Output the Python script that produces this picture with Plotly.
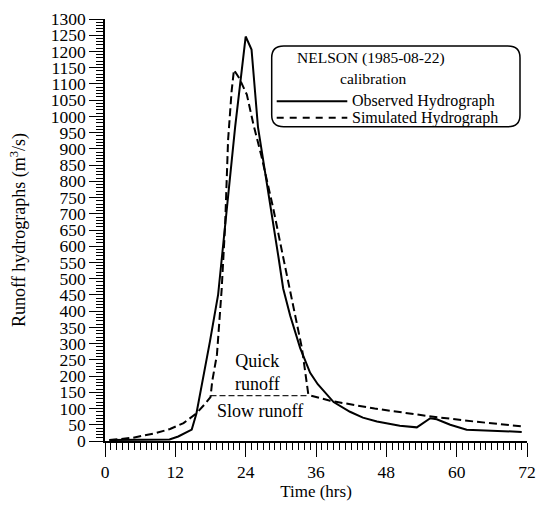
import plotly.graph_objects as go

# ---------------- data ----------------
obs_t = [0.75, 4, 7, 10, 11, 12.5, 14.8, 15.6, 16.8, 17.9, 19.3, 20.5, 22.2, 24.0, 25.0, 26.1,
         27.0, 27.9, 28.7, 29.6, 30.4, 31.6, 33.3, 35.0, 36.3, 37.8, 39.0, 41.8, 44.0, 46.4,
         50.3, 53.2, 54.3, 55.5, 56.6, 58.9, 61.7, 65.1, 68.0, 71.1]
obs_q = [3, 3, 4, 4, 5, 14, 35, 85, 195, 306, 451, 667, 967, 1246, 1206, 967,
         867, 767, 667, 566, 470, 386, 286, 210, 175, 146, 120, 90, 72, 60,
         47, 42, 55, 70, 67, 50, 35, 32, 30, 28]

sim_t = [0.75, 4.8, 8.8, 11.1, 13.4, 15.6, 17.1, 18.0, 18.3, 19.1, 19.9, 20.5, 21.0, 21.6, 22.0,
         22.9, 24.2, 25.3, 26.7, 28.7, 30.4, 32.1, 33.6, 34.7, 38.4, 46.0, 55.0, 63.0, 71.1]
sim_q = [3, 10, 25, 37, 55, 85, 115, 135, 185, 266, 466, 667, 927, 1077, 1143,
         1118, 1067, 977, 877, 717, 566, 416, 286, 142, 124, 100, 77, 60, 45]

sep_t = [18.0, 34.7]
sep_q = [140, 140]

x_ticks = [0, 12, 24, 36, 48, 60, 72]
y_ticks = list(range(0, 1301, 50))

series_names = ["Observed Hydrograph", "Simulated Hydrograph"]
legend_title_lines = ["NELSON (1985-08-22)", "calibration"]
x_title = "Time (hrs)"
y_title = "Runoff hydrographs (m<sup>3</sup>/s)"
quick_text = "Quick<br>runoff"
slow_text = "Slow runoff"

# ---------------- layout helpers ----------------
W, H = 545, 511
ML, MR, MT, MB = 105, 18, 9, 70
PW, PH = W - ML - MR, H - MT - MB
FONT = "Liberation Serif, Times New Roman, serif"


def fx(x):
    return (x - ML) / PW


def fy(y):
    return (H - MB - y) / PH


def rounded_rect(x0, y0, x1, y1, r):
    rx, ry = r / PW, r / PH
    a, b, c, d = fx(x0), fx(x1), fy(y0), fy(y1)  # c top, d bottom
    return (f"M{a+rx},{c} L{b-rx},{c} Q{b},{c} {b},{c-ry} L{b},{d+ry} Q{b},{d} {b-rx},{d} "
            f"L{a+rx},{d} Q{a},{d} {a},{d+ry} L{a},{c-ry} Q{a},{c} {a+rx},{c} Z")


fig = go.Figure()

fig.add_trace(go.Scatter(x=sep_t, y=sep_q, mode="lines",
                         line=dict(color="#222", width=1.2, dash="6px,3px"),
                         showlegend=False, hoverinfo="skip"))
fig.add_trace(go.Scatter(x=sim_t, y=sim_q, mode="lines", name=series_names[1],
                         line=dict(color="black", width=2, dash="8px,4px"),
                         showlegend=False))
fig.add_trace(go.Scatter(x=obs_t, y=obs_q, mode="lines", name=series_names[0],
                         line=dict(color="black", width=2),
                         showlegend=False))

shapes = [
    dict(type="path", xref="paper", yref="paper",
         path=rounded_rect(271.7, 36.7, 520, 119.3, 12),
         line=dict(color="black", width=1.5), fillcolor="white", layer="above"),
    dict(type="line", xref="paper", yref="paper",
         x0=fx(276.7), x1=fx(347.3), y0=fy(93.3), y1=fy(93.3),
         line=dict(color="black", width=2)),
    dict(type="line", xref="paper", yref="paper",
         x0=fx(276.7), x1=fx(347.3), y0=fy(110), y1=fy(110),
         line=dict(color="black", width=2, dash="7px,6px")),
]

annotations = [
    dict(text=legend_title_lines[0], x=fx(371), y=fy(49), xref="paper", yref="paper",
         xanchor="center", yanchor="middle", showarrow=False,
         font=dict(family=FONT, size=15.5, color="black")),
    dict(text=legend_title_lines[1], x=fx(373), y=fy(70), xref="paper", yref="paper",
         xanchor="center", yanchor="middle", showarrow=False,
         font=dict(family=FONT, size=15.5, color="black")),
    dict(text=series_names[0], x=fx(350), y=fy(93), xref="paper", yref="paper",
         xanchor="left", yanchor="middle", showarrow=False,
         font=dict(family=FONT, size=16, color="black")),
    dict(text=series_names[1], x=fx(350), y=fy(110), xref="paper", yref="paper",
         xanchor="left", yanchor="middle", showarrow=False,
         font=dict(family=FONT, size=16, color="black")),
    dict(text=quick_text, x=26.1, y=210, xref="x", yref="y",
         xanchor="center", yanchor="middle", showarrow=False,
         font=dict(family=FONT, size=18, color="black")),
    dict(text=slow_text, x=26.4, y=92, xref="x", yref="y",
         xanchor="center", yanchor="middle", showarrow=False,
         font=dict(family=FONT, size=18, color="black")),
]

axis_common = dict(showline=True, linecolor="black", linewidth=1.5, showgrid=False,
                   zeroline=False, ticks="outside", ticklen=14, tickwidth=1.2,
                   tickcolor="black", ticklabeloverflow="allow",
                   tickfont=dict(family=FONT, size=17.5, color="black"))

fig.update_layout(
    width=W, height=H, autosize=False,
    margin=dict(l=ML, r=MR, t=MT, b=MB, pad=0),
    paper_bgcolor="white", plot_bgcolor="white",
    shapes=shapes, annotations=annotations,
    xaxis=dict(range=[0, 72], tickvals=x_ticks,
               title=dict(text=x_title, font=dict(family=FONT, size=17, color="black"), standoff=4),
               minor=dict(ticks="outside", ticklen=7, dtick=1, tick0=0, tickwidth=1,
                          tickcolor="black", showgrid=False),
               **axis_common),
    yaxis=dict(range=[0, 1300], tickvals=y_ticks,
               title=dict(text=y_title, font=dict(family=FONT, size=18, color="black"), standoff=20),
               minor=dict(ticks="outside", ticklen=7, dtick=10, tick0=0, tickwidth=1,
                          tickcolor="black", showgrid=False),
               **axis_common),
)

fig.write_html("out.html", config={"displayModeBar": False},
               post_script="document.body.style.margin='0px';document.body.style.padding='0px';")
